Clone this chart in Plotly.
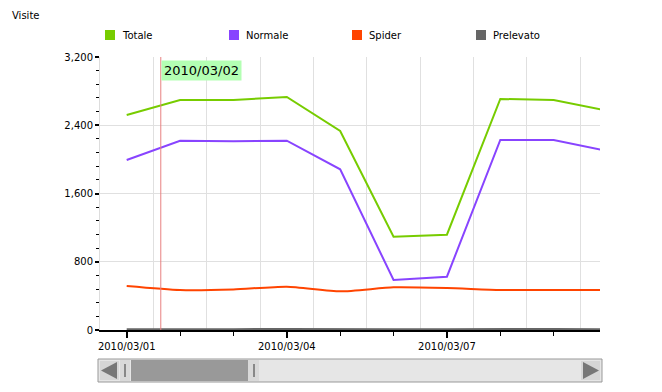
import plotly.graph_objects as go

dates = ["2010-03-01", "2010-03-02", "2010-03-03", "2010-03-04", "2010-03-05",
         "2010-03-06", "2010-03-07", "2010-03-08", "2010-03-09", "2010-03-10"]
totale = [2520, 2696, 2696, 2731, 2333, 1094, 1117, 2708, 2696, 2570]
normale = [1993, 2219, 2213, 2219, 1884, 586, 625, 2227, 2227, 2098]
spider = [516, 469, 476, 508, 453, 500, 492, 469, 469, 469]
prelevato = [8, 6, 10, 12, 6, 8, 9, 14, 12, 10]

series_names = ["Totale", "Normale", "Spider", "Prelevato"]
series_colors = ["#77cc00", "#8844ff", "#ff4400", "#666666"]
y_ticks = [0, 800, 1600, 2400, 3200]
x_major = ["2010-03-01", "2010-03-04", "2010-03-07"]
cursor_date = "2010-03-01 15:20"
cursor_label = "2010/03/02"

FONT = "DejaVu Sans"
OFF = 8  # page body margin
W, H = 662 - OFF, 392 - OFF
L, R, T, B = 100 - OFF, 62, 57 - OFF, 62
PW, PH = W - L - R, H - T - B


def px(x):  # page pixel -> paper
    return (x - OFF - L) / PW


def py(y):  # page pixel -> paper
    return (H - B - (y - OFF)) / PH


fig = go.Figure()
data = [totale, normale, spider, prelevato]
for name, color, vals in zip(series_names, series_colors, data):
    fig.add_trace(go.Scatter(
        x=dates, y=vals, name=name, mode="lines",
        line=dict(color=color, width=2,
                  shape="spline" if name == "Spider" else "linear",
                  smoothing=0.6),
        showlegend=False,
    ))

fig.add_trace(go.Scatter(x=[dates[0]], y=[0], xaxis="x2", mode="markers",
                         marker=dict(opacity=0), showlegend=False, hoverinfo="skip"))

xrange = ["2010-02-28 12:00", "2010-03-09 20:50"]

fig.update_layout(
    width=W, height=H,
    margin=dict(l=L, r=R, t=T, b=B, pad=0),
    paper_bgcolor="white", plot_bgcolor="white",
    font=dict(family=FONT, size=10, color="black"),
    xaxis=dict(
        type="date", range=xrange,
        tickvals=x_major, tickformat="%Y/%m/%d",
        ticks="outside", ticklen=6, tickwidth=2, tickcolor="black",
        showline=True, linecolor="black", linewidth=2,
        showgrid=False, zeroline=False,
        minor=dict(dtick=86400000, tick0="2010-03-01", ticks="outside",
                   ticklen=4, tickwidth=1, tickcolor="black", showgrid=False),
        tickfont=dict(size=10, family=FONT),
        layer="above traces",
    ),
    xaxis2=dict(
        type="date", range=xrange, overlaying="x",
        tick0="2010-02-28 12:00", dtick=86400000,
        showgrid=True, gridcolor="#e0e0e0", gridwidth=1,
        showticklabels=False, ticks="", showline=False, zeroline=False,
        layer="below traces",
    ),
    yaxis=dict(
        range=[0, 3200], tickvals=y_ticks, tickformat=",d",
        ticks="outside", ticklen=4, tickwidth=2, tickcolor="black",
        showline=True, linecolor="#dddddd", linewidth=1,
        showgrid=True, gridcolor="#e0e0e0", gridwidth=1, zeroline=False,
        minor=dict(dtick=160, ticks="outside", ticklen=3, tickwidth=1,
                   tickcolor="black", showgrid=False),
        tickfont=dict(size=10, family=FONT),
    ),
)

shapes = []
annotations = []

annotations.append(dict(text="Visite", xref="paper", yref="paper",
                        x=px(10), y=py(15), xanchor="left", yanchor="middle",
                        showarrow=False, font=dict(size=10, family=FONT)))

leg_x = [105, 229, 352, 476]
for lx, name, color in zip(leg_x, series_names, series_colors):
    shapes.append(dict(type="rect", xref="paper", yref="paper",
                       x0=px(lx), x1=px(lx + 10), y0=py(40), y1=py(30),
                       fillcolor=color, line=dict(width=0)))
    annotations.append(dict(text=name, xref="paper", yref="paper",
                            x=px(lx + 15), y=py(35), xanchor="left", yanchor="middle",
                            showarrow=False, font=dict(size=10, family=FONT)))

shapes.append(dict(type="line", xref="x", yref="paper", x0=cursor_date, x1=cursor_date,
                   y0=0, y1=1, line=dict(color="#e88080", width=1)))
annotations.append(dict(text=cursor_label, xref="x", yref="paper", x=cursor_date,
                        y=py(60), xanchor="left", yanchor="top", showarrow=False,
                        bgcolor="#b3ffb3", borderpad=2,
                        font=dict(size=13, family=FONT, color="black")))


def rect(x0, x1, y0, y1, fill, line=None, lw=0):
    shapes.append(dict(type="rect", xref="paper", yref="paper",
                       x0=px(x0), x1=px(x1), y0=py(y1), y1=py(y0),
                       fillcolor=fill, line=dict(width=lw, color=line or fill)))


rect(98, 602, 359, 382, "#e6e6e6", "#999999", 1)
rect(100, 119, 361, 380, "#d6d6d6")
rect(581, 600, 361, 380, "#d6d6d6")
rect(120, 130, 360, 381, "#d9d9d9")
rect(131, 248, 360, 381, "#999999")
rect(248, 259, 360, 381, "#d9d9d9")
rect(124, 126, 364, 377, "#888888")
rect(253, 255, 364, 377, "#888888")
shapes.append(dict(type="path", xref="paper", yref="paper",
                   path=f"M {px(101)},{py(370.5)} L {px(117)},{py(362)} L {px(117)},{py(379)} Z",
                   fillcolor="#777777", line=dict(width=0)))
shapes.append(dict(type="path", xref="paper", yref="paper",
                   path=f"M {px(599)},{py(370.5)} L {px(583)},{py(362)} L {px(583)},{py(379)} Z",
                   fillcolor="#777777", line=dict(width=0)))

fig.update_layout(shapes=shapes, annotations=annotations)
fig.write_html("out.html")
